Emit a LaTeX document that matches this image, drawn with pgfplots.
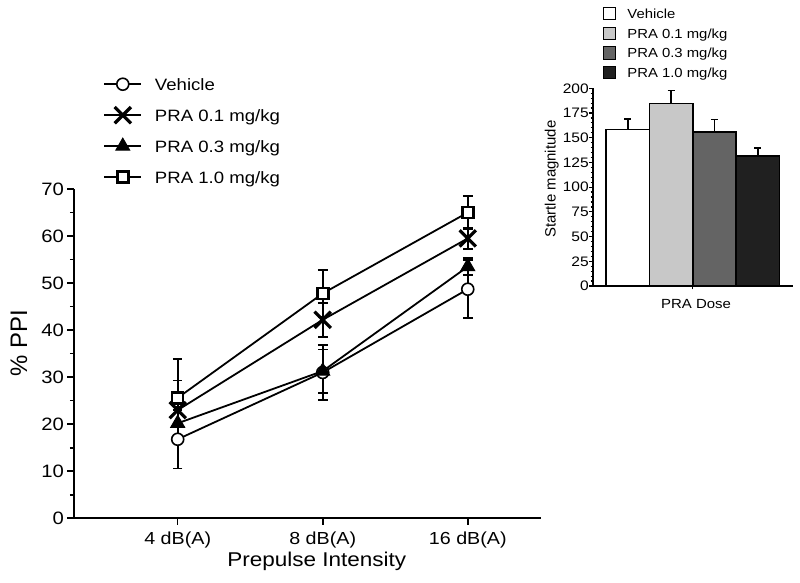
\documentclass[border=0pt]{standalone}
\usepackage{fontspec}
\setmainfont{Liberation Sans}[FakeStretch=1.13]
\newfontfamily\plainsans{Liberation Sans}
\usepackage{pgfplots}
\pgfplotsset{compat=1.18}
\definecolor{gA}{HTML}{C8C8C8}
\definecolor{gB}{HTML}{646464}
\definecolor{gC}{HTML}{202020}
\begin{document}
\begin{tikzpicture}
\path[use as bounding box] (0,0) rectangle (800bp,583bp);
% ---------------- main axis ----------------
\begin{axis}[
  at={(74bp,64.7bp)}, anchor=south west,
  scale only axis, width=467bp, height=329.3bp,
  xmin=-0.715, xmax=2.505, ymin=0, ymax=70,
  axis x line*=bottom, axis y line*=left,
  axis line style={line width=2.2bp, -},
  xtick={0,1,2}, xticklabels={4 dB(A), 8 dB(A), 16 dB(A)},
  ytick={0,10,...,70}, minor y tick num=1,
  tick align=outside,
  major tick length=6.5bp, minor tick length=4bp,
  tick style={line width=1.6bp, black},
  /pgf/number format/assume math mode=true,
  yticklabel style={font=\fontsize{18}{20}\selectfont, inner sep=0.5bp, xshift=-3bp},
  xticklabel style={font=\fontsize{17.5}{20}\selectfont, inner sep=0pt, anchor=north, yshift=-7bp},
  xlabel={Prepulse Intensity},
  xlabel style={font=\fontsize{20}{22}\selectfont, at={(axis cs:0.959,0)}, anchor=base, yshift=-48.4bp},
  ylabel={\% PPI},
  ylabel style={font=\plainsans\fontsize{24}{26}\selectfont, at={(axis description cs:-0.1178,0.5314)}, anchor=center},
  legend style={draw=none, fill=none, inner sep=0pt, at={(0.0627,1.3492)}, anchor=north west,
    font=\fontsize{16.5}{18}\selectfont, row sep=11bp, column sep=13bp,
    nodes={inner sep=0pt, text height=16bp, text depth=4bp, anchor=west}},
  legend cell align=left,
  legend image code/.code={\draw[mark repeat=2, mark phase=2, #1] plot coordinates {(0bp,0bp) (18.4bp,0bp) (36.7bp,0bp)};},
  every axis plot/.append style={black, line width=1.8bp},
  clip=false,
]
% Vehicle
\addplot[mark=*, mark size=6bp, mark options={fill=white, line width=1.6bp},
  error bars/.cd, y dir=both, y explicit,
  error bar style={line width=1.8bp}, error mark options={rotate=90, mark size=4.8bp, line width=1.8bp}]
  coordinates {(0,16.8) +- (0,6.2) (1,31.0) +- (0,5.8) (2,48.7) +- (0,6.2)};
\addlegendentry{Vehicle}
% PRA 0.1
\addplot[mark=x, mark size=11.5bp, mark options={line width=3.2bp},
  error bars/.cd, y dir=both, y explicit,
  error bar style={line width=1.8bp}, error mark options={rotate=90, mark size=4.8bp, line width=1.8bp}]
  coordinates {(0,23.0) +- (0,6.3) (1,42.2) +- (0,3.6) (2,59.5) +- (0,2.3)};
\addlegendentry{PRA 0.1 mg/kg}
% PRA 0.3
\addplot[mark=triangle*, mark size=8bp, mark options={fill=black, line width=1bp},
  error bars/.cd, y dir=both, y explicit,
  error bar style={line width=1.8bp}, error mark options={rotate=90, mark size=4.8bp, line width=1.8bp}]
  coordinates {(0,20.2) +- (0,3.5) (1,31.3) +- (0,4.6) (2,53.5) +- (0,1.8)};
\addlegendentry{PRA 0.3 mg/kg}
% PRA 1.0
\addplot[mark=square*, mark size=5.5bp, mark options={fill=white, line width=2.6bp},
  error bars/.cd, y dir=both, y explicit,
  error bar style={line width=1.8bp}, error mark options={rotate=90, mark size=4.8bp, line width=1.8bp}]
  coordinates {(0,25.6) +- (0,8.3) (1,47.8) +- (0,5.0) (2,65.0) +- (0,3.5)};
\addlegendentry{PRA 1.0 mg/kg}
\end{axis}
% ---------------- inset ----------------
\begin{axis}[
  at={(592.7bp,297bp)}, anchor=south west,
  scale only axis, width=200.6bp, height=197.7bp,
  xmin=0.19, xmax=4.82, ymin=0, ymax=200,
  axis x line*=bottom, axis y line*=left,
  axis line style={line width=1.6bp, -},
  xtick={2.5}, xticklabels={},
  ytick={0,25,...,200}, minor y tick num=4,
  tick align=outside,
  major tick length=3.5bp, minor tick length=2bp,
  tick style={line width=1.2bp, black},
  /pgf/number format/assume math mode=true,
  yticklabel style={font=\fontsize{13.8}{15}\selectfont, inner sep=0.3bp},
  xlabel={PRA Dose},
  xlabel style={font=\fontsize{13.3}{15}\selectfont, at={(axis cs:2.5,0)}, anchor=base, xshift=3.3bp, yshift=-22.3bp},
  ylabel={Startle magnitude},
  ylabel style={font=\plainsans\fontsize{15}{17}\selectfont, at={(axis description cs:-0.2044,0.5405)}, anchor=center},
  legend style={draw=none, fill=none, inner sep=0pt, at={(0.0499,1.4123)}, anchor=north west,
    font=\fontsize{13.2}{15}\selectfont, row sep=6.13bp, column sep=11bp,
    nodes={inner sep=0pt, text height=11.25bp, text depth=1.75bp, anchor=west}},
  legend cell align=left,
  clip=false,
]
\addplot[ybar, bar width=1, bar shift=0pt, fill=white, draw=black, line width=1.6bp,
  legend image code/.code={\draw[fill=white, draw=black, line width=1.2bp] (0bp,-6.15bp) rectangle (12.3bp,6.15bp);},
  error bars/.cd, y dir=plus, y explicit,
  error bar style={line width=1.6bp}, error mark options={rotate=90, mark size=3.5bp, line width=1.6bp}]
  coordinates {(1,158.5) +- (0,10.4)};
\addlegendentry{Vehicle}
\addplot[ybar, bar width=1, bar shift=0pt, fill=gA, draw=black, line width=1.6bp,
  legend image code/.code={\draw[fill=gA, draw=black, line width=1.2bp] (0bp,-6.15bp) rectangle (12.3bp,6.15bp);},
  error bars/.cd, y dir=plus, y explicit,
  error bar style={line width=1.6bp}, error mark options={rotate=90, mark size=3.5bp, line width=1.6bp}]
  coordinates {(2,184.8) +- (0,13.1)};
\addlegendentry{PRA 0.1 mg/kg}
\addplot[ybar, bar width=1, bar shift=0pt, fill=gB, draw=black, line width=1.6bp,
  legend image code/.code={\draw[fill=gB, draw=black, line width=1.2bp] (0bp,-6.15bp) rectangle (12.3bp,6.15bp);},
  error bars/.cd, y dir=plus, y explicit,
  error bar style={line width=1.6bp}, error mark options={rotate=90, mark size=3.5bp, line width=1.6bp}]
  coordinates {(3,155.5) +- (0,12.8)};
\addlegendentry{PRA 0.3 mg/kg}
\addplot[ybar, bar width=1, bar shift=0pt, fill=gC, draw=black, line width=1.6bp,
  legend image code/.code={\draw[fill=gC, draw=black, line width=1.2bp] (0bp,-6.15bp) rectangle (12.3bp,6.15bp);},
  error bars/.cd, y dir=plus, y explicit,
  error bar style={line width=1.6bp}, error mark options={rotate=90, mark size=3.5bp, line width=1.6bp}]
  coordinates {(4,131.8) +- (0,8.1)};
\addlegendentry{PRA 1.0 mg/kg}
\end{axis}
\end{tikzpicture}
\end{document}
